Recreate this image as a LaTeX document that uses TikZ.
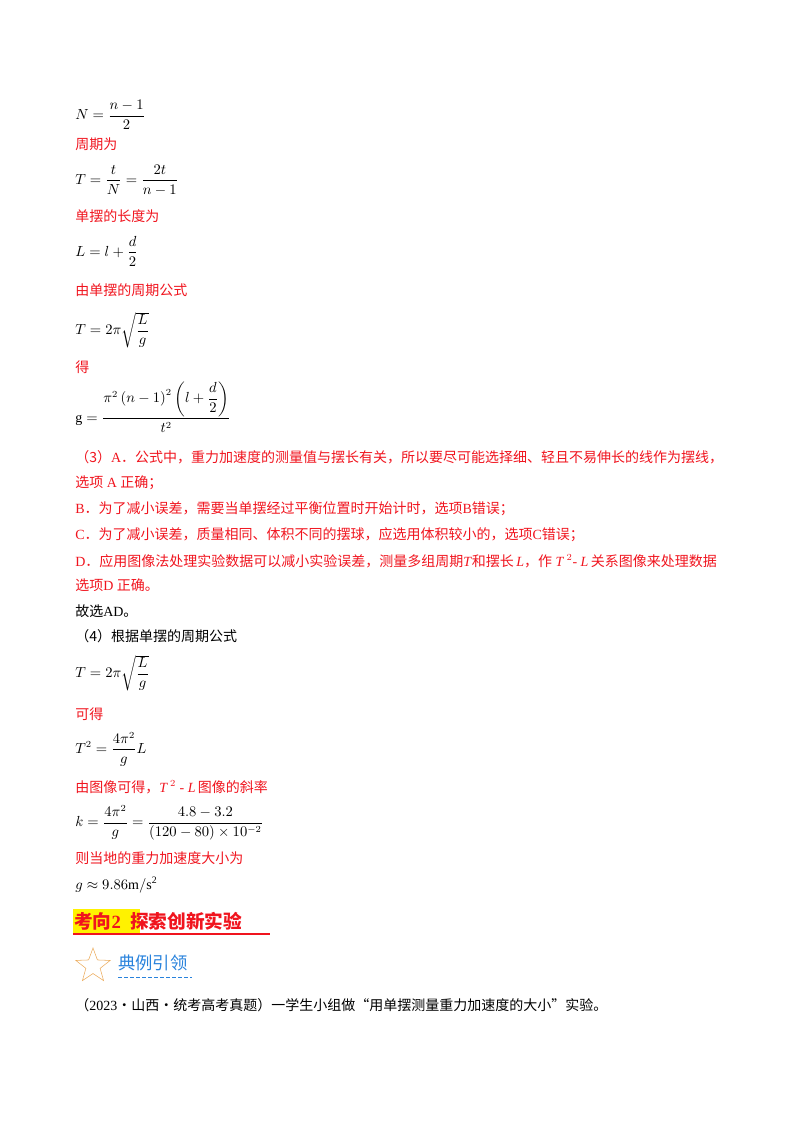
\documentclass[tikz,border=0pt]{standalone}
\usepackage{amsmath}
\usepackage{fontspec}
\setmainfont{Liberation Serif}
\newfontfamily\cjk{Noto Sans CJK SC}
\usetikzlibrary{shapes.geometric}
\definecolor{rd}{RGB}{240,20,30}
\definecolor{bl}{RGB}{40,130,220}
\definecolor{orng}{RGB}{235,170,90}
\tikzset{x=0.75pt,y=-0.75pt,
 tx/.style={anchor=west,inner sep=0pt,font=\fontsize{10.5}{12}\selectfont},
 rt/.style={tx,text=rd},
 mt/.style={tx,text=black}}
\newcommand{\zh}[1]{{\cjk #1}}
\begin{document}
\begin{tikzpicture}
\useasboundingbox (0,0) rectangle (800,1132);
\node[mt] (m1) at (75,115) {$N=\dfrac{n-1}{2}$};
\node[rt] (t1) at (75,144) {\zh{周期为}};
\node[mt] (m2) at (75,180) {$T=\dfrac{t}{N}=\dfrac{2t}{n-1}$};
\node[rt] (t2) at (75,216) {\zh{单摆的长度为}};
\node[mt] (m3) at (75,251) {$L=l+\dfrac{d}{2}$};
\node[rt] (t3) at (75,290) {\zh{由单摆的周期公式}};
\node[mt] (m4) at (75,330) {$T=2\pi\sqrt{\dfrac{L}{g}}$};
\node[rt] (t4) at (75,367) {\zh{得}};
\node[mt] (m5) at (75,407) {$\mathrm{g}=\dfrac{\pi^2\left(n-1\right)^2\left(l+\dfrac{d}{2}\right)}{t^2}$};
\node[rt] (t5) at (75,457) {\zh{（3）}A\zh{．公式中，重力加速度的测量值与摆长有关，所以要尽可能选择细、轻且不易伸长的线作为摆线，}};
\node[rt] (t6) at (75,483) {\zh{选项} A \zh{正确；}};
\node[rt] (t7) at (75,509) {B\zh{．为了减小误差，需要当单摆经过平衡位置时开始计时，选项}B\zh{错误；}};
\node[rt] (t8) at (75,535) {C\zh{．为了减小误差，质量相同、体积不同的摆球，应选用体积较小的，选项}C\zh{错误；}};
\node[rt] (t9) at (75,561) {D\zh{．应用图像法处理实验数据可以减小实验误差，测量多组周期}\textit{T}\zh{和摆长}\,\textit{L}\zh{，作} \textit{T}\,$^{2}$- \textit{L}\,\zh{关系图像来处理数据}};
\node[rt] (t10) at (75,585) {\zh{选项}D \zh{正确。}};
\node[tx] (t11) at (75,611) {\zh{故选}AD\zh{。}};
\node[tx] (t12) at (75,636) {\zh{（4）根据单摆的周期公式}};
\node[mt] (m6) at (75,673) {$T=2\pi\sqrt{\dfrac{L}{g}}$};
\node[rt] (t13) at (75,714) {\zh{可得}};
\node[mt] (m7) at (75,749) {$T^2=\dfrac{4\pi^2}{g}L$};
\node[rt] (t14) at (75,787) {\zh{由图像可得，}\textit{T}\,$^{2}$ - \textit{L}\,\zh{图像的斜率}};
\node[mt] (m8) at (75,823) {$k=\dfrac{4\pi^2}{g}=\dfrac{4.8-3.2}{(120-80)\times10^{-2}}$};
\node[rt] (t15) at (75,858) {\zh{则当地的重力加速度大小为}};
\node[mt] (m9) at (75,885) {$g\approx9.86\mathrm{m/s^2}$};
\fill[yellow] (73,909) rectangle (140,935);
\node[tx,text=rd,font=\fontsize{14}{16}\selectfont\bfseries] (h1) at (74,921) {\zh{\bfseries 考向}2\ \ \zh{\bfseries 探索创新实验}};
\draw[rd,line width=1.2pt] (73,934) -- (270,934);
\node[star,star points=5,star point ratio=2.4,draw=orng,minimum size=27pt,inner sep=0pt] (st) at (93,966) {};
\node[tx,text=bl,font=\fontsize{13}{15}\selectfont] (h2) at (118,963) {\zh{典例引领}};
\draw[bl,dash pattern=on 3pt off 1.5pt,line width=1pt] (h2.south west)++(0,6) -- ++(74,0);
\node[tx] (t16) at (75,1005) {\zh{（}2023\zh{·山西·统考高考真题）一学生小组做“用单摆测量重力加速度的大小”实验。}};
\end{tikzpicture}
\end{document}
